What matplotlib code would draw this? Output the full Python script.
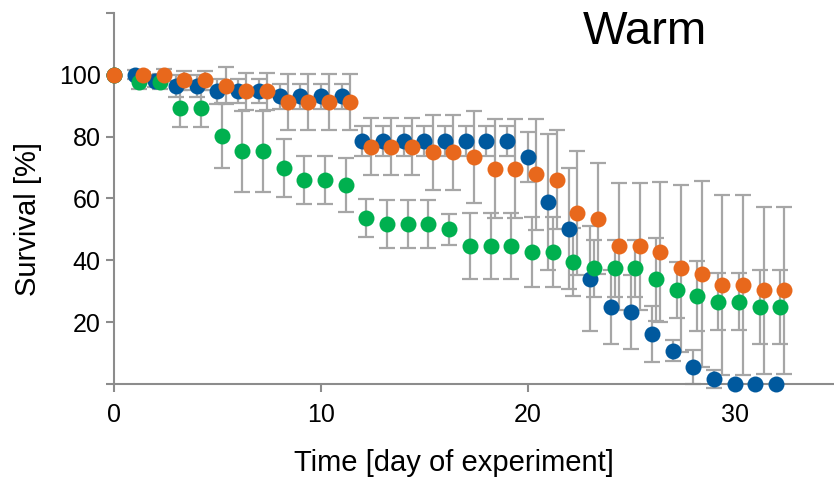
import numpy as np
import matplotlib.pyplot as plt

plt.rcParams['font.family'] = ['Liberation Sans', 'DejaVu Sans']

# Дни эксперимента
days = np.arange(0, 33)

# Выживаемость [%] и ошибки для трёх групп
blue_surv = [100, 100, 98, 96.4, 96.4, 94.6, 94.8, 94.8, 93, 93, 93, 93,
             78.6, 78.6, 78.6, 78.6, 78.6, 78.6, 78.6, 78.6, 73.4, 59, 50.2, 34,
             25, 23.2, 16.2, 10.8, 5.4, 1.6, 0, 0, 0]
blue_err = [0, 1.5, 2, 3.5, 3.5, 4, 4, 4, 4, 4, 4, 4,
            5, 5, 5, 5, 5, 5, 5, 5, 8, 22, 19.5, 17,
            12, 12, 9, 3.5, 5.5, 3, 0, 0, 0]

green_surv = [100, 97.8, 97.8, 89.2, 89.2, 80.3, 75.2, 75.2, 69.8, 66, 66, 64.4,
              53.6, 51.8, 51.8, 51.8, 50, 44.7, 44.7, 44.7, 42.8, 42.8, 39.3, 37.4,
              37.4, 37.4, 33.9, 30.3, 28.5, 26.6, 26.6, 24.9, 24.9]
green_err = [0, 2.5, 2.5, 6, 6, 10.5, 13, 13, 9.3, 7.8, 7.8, 8.8,
             6.2, 7.8, 7.8, 7.8, 5, 10.7, 10.7, 10.7, 11.3, 11.3, 11, 9.3,
             9.3, 9.3, 13.4, 9, 11.3, 9.2, 9.2, 12, 12]

orange_surv = [100, 100, 100, 98.2, 98.2, 96.4, 94.6, 94.6, 91.1, 91.1, 91.1, 91.1,
               76.8, 76.8, 76.8, 74.9, 74.9, 73.4, 69.6, 69.6, 67.8, 66, 55.2, 53.5,
               44.5, 44.5, 42.8, 37.4, 35.6, 32, 32, 30.3, 30.3]
orange_err = [0, 1, 2, 3, 3, 6, 6, 6, 9, 9, 9, 9,
              9.3, 9.3, 9.3, 12, 12, 15, 16, 16, 18, 16, 20, 18,
              20.5, 20.5, 22.6, 27, 30, 29, 29, 27, 27]

# Сдвиг по оси x, чтобы точки не перекрывались
offsets = {'blue': 0.0, 'green': 0.2, 'orange': 0.4}
colors = {'blue': '#00599e', 'green': '#00b04f', 'orange': '#e8681c'}
series = [('blue', blue_surv, blue_err),
          ('green', green_surv, green_err),
          ('orange', orange_surv, orange_err)]

fig = plt.figure(figsize=(8.34, 4.8), dpi=100)
ax = fig.add_axes([0.1367, 0.2, 0.8633, 0.773])

for name, surv, err in series:
    x = days + offsets[name]
    x[0] = 0  # день 0 у всех групп одинаковый
    ax.errorbar(x, surv, yerr=err, fmt='none', ecolor='#a6a6a6',
                elinewidth=1.6, capsize=6, capthick=1.6, zorder=2, clip_on=False)

for name, surv, err in series:
    x = days + offsets[name]
    x[0] = 0
    ax.plot(x, surv, 'o', color=colors[name], markersize=11.5,
            markeredgewidth=0, zorder=3, clip_on=False)

ax.set_xlim(0, 34.8)
ax.set_ylim(0, 120)
ax.set_xticks([0, 10, 20, 30])
ax.set_yticks([0, 20, 40, 60, 80, 100, 120])
ax.set_yticklabels(['', '20', '40', '60', '80', '100', ''])

for side in ['top', 'right']:
    ax.spines[side].set_visible(False)
for side in ['left', 'bottom']:
    ax.spines[side].set_color('#8c8c8c')
    ax.spines[side].set_linewidth(1.5)

ax.tick_params(axis='both', direction='out', length=5.5, width=1.5,
               color='#8c8c8c', labelsize=18)
ax.tick_params(axis='x', pad=8)
ax.tick_params(axis='y', pad=4)

ax.set_xlabel('Time [day of experiment]', fontsize=21, labelpad=16, x=0.472)
ax.set_ylabel('Survival [%]', fontsize=21, labelpad=12, y=0.445)
ax.text(0.737, 0.948, 'Warm', transform=ax.transAxes, fontsize=34,
        ha='center', va='center')

plt.savefig('out.png', dpi=100)
